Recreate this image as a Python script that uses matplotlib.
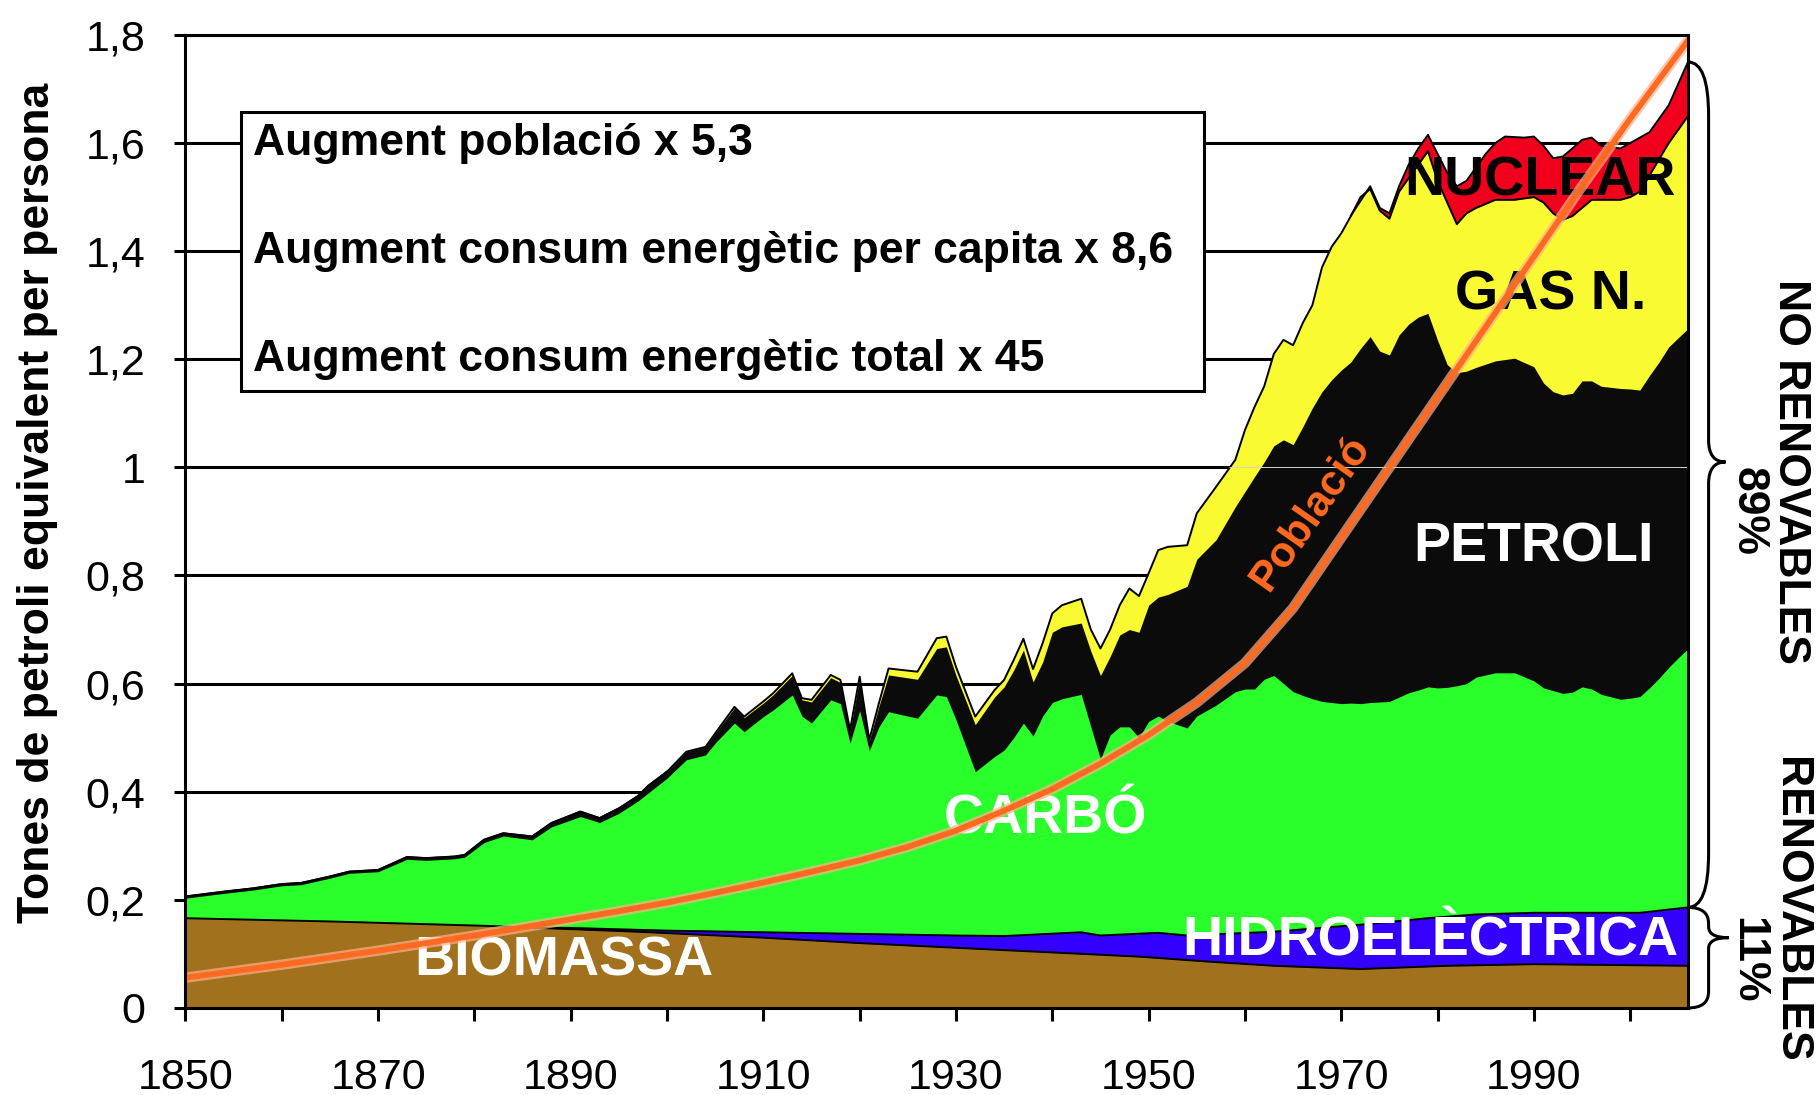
import matplotlib
matplotlib.use("Agg")
import matplotlib.pyplot as plt
import matplotlib.transforms as mtransforms
from matplotlib.path import Path
from matplotlib.patches import PathPatch, Rectangle

plt.rcParams["font.family"] = ["Liberation Sans", "DejaVu Sans"]

# ---------- Dades: tones equivalents de petroli per persona ----------
# limits superiors (acumulats) de cada capa, llegits del grafic
anys = [1850, 1854, 1857, 1860, 1862, 1865, 1867, 1870, 1873, 1875,
        1878, 1879, 1881, 1883, 1886, 1888, 1891, 1893, 1895, 1897,
        1898, 1900, 1902, 1904, 1905, 1907, 1908, 1910, 1911, 1913,
        1914, 1915, 1917, 1918, 1919, 1920, 1921, 1922, 1923, 1926,
        1928, 1929, 1930, 1932, 1934, 1935, 1936, 1937, 1938, 1939,
        1940, 1941, 1943, 1944, 1945, 1946, 1947, 1948, 1949, 1950,
        1951, 1952, 1954, 1955, 1957, 1959, 1960, 1961, 1962, 1963,
        1964, 1965, 1966, 1967, 1968, 1969, 1970, 1971, 1972, 1973,
        1974, 1975, 1976, 1977, 1978, 1979, 1980, 1981, 1982, 1983,
        1984, 1986, 1988, 1990, 1991, 1992, 1993, 1994, 1995, 1996,
        1997, 1999, 2000, 2001, 2002, 2003, 2004, 2005, 2006]

top_carbo = [0.203, 0.212, 0.218, 0.226, 0.228, 0.240, 0.249, 0.252, 0.275, 0.273,
             0.276, 0.279, 0.306, 0.318, 0.311, 0.335, 0.354, 0.343, 0.360, 0.383,
             0.397, 0.425, 0.459, 0.468, 0.490, 0.527, 0.511, 0.539, 0.551, 0.579,
             0.540, 0.527, 0.570, 0.563, 0.490, 0.550, 0.476, 0.520, 0.548, 0.536,
             0.579, 0.576, 0.533, 0.437, 0.465, 0.477, 0.500, 0.527, 0.503, 0.540,
             0.565, 0.572, 0.580, 0.520, 0.460, 0.505, 0.520, 0.520, 0.500, 0.530,
             0.540, 0.530, 0.518, 0.540, 0.560, 0.585, 0.590, 0.590, 0.608, 0.615,
             0.600, 0.585, 0.578, 0.572, 0.567, 0.565, 0.563, 0.564, 0.563, 0.565,
             0.566, 0.567, 0.575, 0.583, 0.588, 0.594, 0.592, 0.593, 0.596, 0.600,
             0.612, 0.620, 0.620, 0.605, 0.592, 0.587, 0.582, 0.584, 0.594, 0.590,
             0.580, 0.571, 0.573, 0.576, 0.592, 0.610, 0.630, 0.648, 0.665]

top_petroli = [0.206, 0.215, 0.221, 0.229, 0.231, 0.243, 0.252, 0.255, 0.279, 0.277,
               0.280, 0.283, 0.311, 0.323, 0.317, 0.342, 0.363, 0.351, 0.369, 0.392,
               0.410, 0.437, 0.474, 0.483, 0.508, 0.555, 0.537, 0.564, 0.579, 0.615,
               0.570, 0.566, 0.611, 0.602, 0.512, 0.610, 0.494, 0.558, 0.616, 0.608,
               0.665, 0.668, 0.615, 0.524, 0.575, 0.594, 0.625, 0.662, 0.603, 0.640,
               0.695, 0.705, 0.712, 0.660, 0.615, 0.650, 0.690, 0.700, 0.695, 0.745,
               0.760, 0.765, 0.780, 0.830, 0.866, 0.927, 0.955, 0.983, 1.010, 1.040,
               1.051, 1.042, 1.075, 1.110, 1.140, 1.162, 1.180, 1.195, 1.220, 1.242,
               1.215, 1.208, 1.245, 1.265, 1.278, 1.285, 1.235, 1.190, 1.175, 1.178,
               1.185, 1.197, 1.202, 1.186, 1.156, 1.140, 1.134, 1.137, 1.160, 1.160,
               1.150, 1.146, 1.145, 1.143, 1.170, 1.195, 1.223, 1.240, 1.257]

top_gas = [0.206, 0.215, 0.221, 0.229, 0.231, 0.243, 0.252, 0.255, 0.279, 0.277,
           0.280, 0.283, 0.311, 0.323, 0.317, 0.342, 0.363, 0.351, 0.369, 0.392,
           0.410, 0.437, 0.474, 0.483, 0.508, 0.557, 0.539, 0.567, 0.582, 0.619,
           0.573, 0.570, 0.616, 0.607, 0.514, 0.613, 0.496, 0.564, 0.628, 0.622,
           0.684, 0.687, 0.631, 0.539, 0.588, 0.607, 0.644, 0.683, 0.627, 0.675,
           0.730, 0.745, 0.757, 0.700, 0.665, 0.700, 0.745, 0.776, 0.762, 0.804,
           0.847, 0.853, 0.856, 0.915, 0.964, 1.014, 1.069, 1.112, 1.150, 1.210,
           1.236, 1.226, 1.267, 1.300, 1.370, 1.408, 1.433, 1.465, 1.500, 1.515,
           1.475, 1.460, 1.510, 1.535, 1.560, 1.585, 1.530, 1.490, 1.450, 1.470,
           1.480, 1.495, 1.495, 1.500, 1.490, 1.470, 1.458, 1.465, 1.480, 1.495,
           1.495, 1.495, 1.500, 1.510, 1.540, 1.570, 1.600, 1.625, 1.650]

anys_nuclear = [1971, 1973, 1974, 1975, 1976, 1977, 1978, 1979, 1980, 1981,
                1982, 1983, 1984, 1985, 1986, 1987, 1989, 1990, 1991, 1992,
                1993, 1994, 1995, 1996, 1997, 1999, 2000, 2001, 2002, 2003,
                2004, 2005, 2006]
top_nuclear = [1.466, 1.520, 1.480, 1.470, 1.520, 1.560, 1.590, 1.615, 1.580, 1.545,
               1.520, 1.530, 1.555, 1.580, 1.600, 1.612, 1.610, 1.612, 1.595, 1.572,
               1.575, 1.590, 1.606, 1.610, 1.595, 1.590, 1.600, 1.610, 1.620, 1.645,
               1.670, 1.710, 1.750]

anys_hidro = [1885, 1890, 1900, 1910, 1920, 1930, 1935, 1943, 1945, 1951,
              1954, 1963, 1972, 1979, 1984, 1990, 2001, 2006]
top_hidro = [0.149, 0.148, 0.143, 0.140, 0.137, 0.134, 0.133, 0.140, 0.134, 0.139,
             0.134, 0.141, 0.154, 0.166, 0.173, 0.176, 0.176, 0.186]

anys_biomassa = [1850, 1865, 1881, 1897, 1910, 1920, 1935, 1949, 1956, 1963,
                 1972, 1981, 1990, 2006]
top_biomassa = [0.166, 0.160, 0.152, 0.141, 0.130, 0.120, 0.107, 0.095, 0.086, 0.078,
                0.072, 0.078, 0.081, 0.078]

# poblacio (escala relativa dibuixada sobre el mateix eix)
anys_poblacio = [1850, 1855, 1860, 1865, 1870, 1875, 1880, 1885, 1890, 1895,
                 1900, 1905, 1910, 1915, 1920, 1925, 1930, 1935, 1940, 1945,
                 1950, 1955, 1960, 1965, 1970, 1975, 1980, 1985, 1990, 1995,
                 2000, 2006]
poblacio = [0.056, 0.068, 0.080, 0.093, 0.106, 0.120, 0.134, 0.149, 0.164, 0.179,
            0.195, 0.213, 0.232, 0.252, 0.273, 0.298, 0.328, 0.365, 0.405, 0.452,
            0.505, 0.565, 0.638, 0.740, 0.870, 1.000, 1.130, 1.260, 1.390, 1.520,
            1.645, 1.790]

yticks = [0, 0.2, 0.4, 0.6, 0.8, 1.0, 1.2, 1.4, 1.6, 1.8]
ytick_labels = ["0", "0,2", "0,4", "0,6", "0,8", "1", "1,2", "1,4", "1,6", "1,8"]
xticks = list(range(1850, 2001, 20))

textos_caixa = ["Augment població x 5,3",
                "Augment consum energètic per capita x 8,6",
                "Augment consum energètic total x 45"]

# colors
c_biomassa = "#A2711E"
c_hidro = "#3300FF"
c_carbo = "#2BFF2B"
c_petroli = "#0B0B0B"
c_gas = "#FAFA32"
c_nuclear = "#F0001C"
c_pob = "#FF6A20"

# ---------- Figura ----------
fig = plt.figure(figsize=(18.18, 10.95), dpi=100)
ax = fig.add_axes([0.102, 0.0795, 0.8265, 0.8886])
ax.set_xlim(1850, 2006)
ax.set_ylim(0, 1.8)

# capes pintades de dalt a baix
ax.fill_between(anys_nuclear, 0, top_nuclear, color=c_nuclear, lw=0, zorder=1)
ax.fill_between(anys, 0, top_gas, color=c_gas, lw=0, zorder=1.1)
ax.fill_between(anys, 0, top_petroli, color=c_petroli, lw=0, zorder=1.2)
ax.fill_between(anys, 0, top_carbo, color=c_carbo, lw=0, zorder=1.3)
ax.fill_between(anys_hidro, 0, top_hidro, color=c_hidro, lw=0, zorder=1.4)
ax.fill_between(anys_biomassa, 0, top_biomassa, color=c_biomassa, lw=0, zorder=1.5)

# contorns
for xs, ys in [(anys_nuclear, top_nuclear), (anys, top_gas),
               (anys_hidro, top_hidro), (anys_biomassa, top_biomassa)]:
    ax.plot(xs, ys, color="black", lw=1.4, zorder=2)
ax.plot(anys[:22], top_petroli[:22], color="black", lw=1.6, zorder=2)

# linia fina clara a 1,0 sobre la zona fosca
ax.hlines(1.0, 1958.3, 2006, colors="#d5d5d5", lw=0.7, zorder=2.2)

# graella
ax.set_axisbelow(True)
ax.grid(axis="y", color="black", lw=2.2)
ax.grid(axis="x", visible=False)

# caixa de text
ax.add_patch(Rectangle((1855.8, 1.141), 99.9, 0.516, facecolor="white",
                       edgecolor="black", lw=2.2, zorder=2))
for txt, yv in zip(textos_caixa, [1.6, 1.4, 1.2]):
    ax.text(1857.0, yv, txt, fontsize=32, fontweight="bold", va="center",
            ha="left", zorder=3)

# etiquetes de les capes
et = dict(fontsize=40, fontweight="bold", ha="center", va="center", zorder=4)
ax.text(1990.6, 1.528, "NUCLEAR", color="black", **et)
ax.text(1991.7, 1.318, "GAS N.", color="black", **et)
ax.text(1989.9, 0.852, "PETROLI", color="white", **et)
ax.text(1939.3, 0.348, "CARBÓ", color="white", **et)
ax.text(1889.3, 0.085, "BIOMASSA", color="white", **et)
ax.text(1979.2, 0.123, "HIDROELÈCTRICA", color="white", **et)

# poblacio
ax.plot(anys_poblacio, poblacio, color="#FFB08A", lw=7.5, alpha=0.7,
        solid_capstyle="round", zorder=5)
ax.plot(anys_poblacio, poblacio, color=c_pob, lw=4.2,
        solid_capstyle="round", zorder=5.1)
ax.text(1966.8, 0.915, "Població", color=c_pob, fontsize=31, fontweight="bold",
        rotation=55, ha="center", va="center", rotation_mode="anchor", zorder=6)

# eixos
for s in ax.spines.values():
    s.set_linewidth(2.2)
    s.set_zorder(7)
ax.set_yticks(yticks)
ax.set_yticklabels(ytick_labels)
ax.set_xticks(xticks)
ax.set_xticks(list(range(1860, 2001, 20)), minor=True)
ax.tick_params(axis="y", which="major", direction="out", length=8, width=2.2,
               labelsize=31, pad=21)
ax.tick_params(axis="x", which="both", direction="out", length=9, width=2.2,
               labelsize=31, pad=27)

fig.text(0.0209, 0.5406, "Tones de petroli equivalent per persona", rotation=90,
         fontsize=32, fontweight="bold", ha="center", va="center")


# claus de la dreta
def clau(y_dalt, y_mig, y_baix, r_ext, r_mig, x1=1.0137, xp=1.025):
    tr = mtransforms.blended_transform_factory(ax.transAxes, ax.transData)
    verts = [(1.0, y_dalt), (x1, y_dalt), (x1, y_dalt - r_ext),
             (x1, y_mig + r_mig),
             (x1, y_mig), (xp, y_mig),
             (x1, y_mig), (x1, y_mig - r_mig),
             (x1, y_baix + r_ext),
             (x1, y_baix), (1.0, y_baix)]
    codes = [Path.MOVETO, Path.CURVE3, Path.CURVE3, Path.LINETO,
             Path.CURVE3, Path.CURVE3, Path.CURVE3, Path.CURVE3,
             Path.LINETO, Path.CURVE3, Path.CURVE3]
    ax.add_patch(PathPatch(Path(verts, codes), transform=tr, fill=False,
                           lw=2.2, edgecolor="black", clip_on=False, zorder=8))


clau(top_nuclear[-1], 1.01, top_hidro[-1], 0.1, 0.04)
clau(top_hidro[-1], 0.13, 0.0, 0.03, 0.02, xp=1.027)

rt = dict(fontsize=32, fontweight="bold", rotation=-90, ha="center", va="center")
fig.text(0.985, 0.569, "NO RENOVABLES", **rt)
fig.text(0.9615, 0.533, "89%", **rt)
fig.text(0.985, 0.169, "RENOVABLES", **rt)
fig.text(0.9615, 0.123, "11%", **rt)

fig.savefig("out.png", dpi=100)
